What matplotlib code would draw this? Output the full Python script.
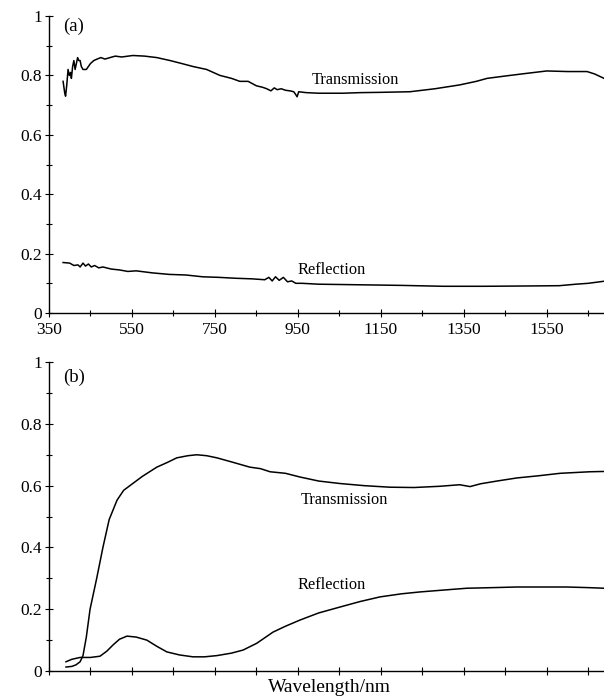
import matplotlib
matplotlib.use('Agg')
import matplotlib.pyplot as plt
from matplotlib.ticker import MultipleLocator, FixedLocator
import numpy as np

plt.rcParams['font.family'] = ['Liberation Serif', 'DejaVu Serif']

# (a) measured spectrum
wl_a_t = [384, 388, 390, 393, 396, 399, 402, 404, 407, 410, 413, 416, 419, 422, 425,
          428, 432, 440, 450, 458, 466, 475, 485, 497, 510, 525, 552, 580, 610, 642,
          670, 697, 730, 762, 790, 810, 830, 850, 865, 875, 885, 893, 900, 910, 920,
          931, 940, 945, 948, 952, 970, 1000, 1058, 1100, 1150, 1220, 1280, 1340,
          1380, 1406, 1450, 1502, 1550, 1600, 1647, 1665, 1688]
trans_a = [0.78, 0.74, 0.73, 0.77, 0.82, 0.80, 0.81, 0.79, 0.83, 0.85, 0.82, 0.84, 0.86,
           0.85, 0.85, 0.83, 0.82, 0.82, 0.84, 0.85, 0.855, 0.86, 0.855, 0.86, 0.865,
           0.862, 0.867, 0.865, 0.86, 0.85, 0.84, 0.83, 0.82, 0.80, 0.79, 0.78, 0.78,
           0.765, 0.76, 0.755, 0.748, 0.758, 0.752, 0.755, 0.75, 0.748, 0.745, 0.735,
           0.728, 0.745, 0.742, 0.74, 0.74, 0.742, 0.743, 0.745, 0.755, 0.768, 0.78,
           0.79, 0.798, 0.807, 0.815, 0.813, 0.813, 0.805, 0.79]

wl_a_r = [384, 400, 410, 420, 425, 432, 438, 445, 452, 460, 470, 480, 500, 520, 540,
          560, 600, 640, 680, 720, 760, 800, 840, 870, 880, 888, 896, 905, 915, 925,
          935, 945, 960, 1000, 1100, 1200, 1300, 1400, 1500, 1580, 1620, 1650, 1688]
refl_a = [0.17, 0.168, 0.16, 0.162, 0.155, 0.168, 0.158, 0.165, 0.155, 0.16, 0.152,
          0.155, 0.148, 0.145, 0.14, 0.142, 0.135, 0.13, 0.128, 0.122, 0.12, 0.117,
          0.115, 0.112, 0.12, 0.108, 0.122, 0.11, 0.12, 0.105, 0.108, 0.1, 0.1, 0.097,
          0.095, 0.093, 0.09, 0.09, 0.091, 0.092, 0.097, 0.1, 0.107]

# (b) calculated spectrum
wl_b_t = [391, 405, 415, 425, 432, 440, 449, 465, 480, 495, 514, 530, 545, 575, 610,
          635, 658, 685, 706, 730, 755, 795, 834, 860, 883, 920, 955, 1000, 1051,
          1110, 1172, 1230, 1292, 1340, 1365, 1390, 1430, 1478, 1530, 1582, 1654, 1688]
trans_b = [0.013, 0.015, 0.02, 0.03, 0.05, 0.11, 0.2, 0.3, 0.4, 0.49, 0.553, 0.585,
           0.60, 0.63, 0.66, 0.675, 0.69, 0.697, 0.70, 0.697, 0.69, 0.675, 0.66, 0.655,
           0.645, 0.64, 0.628, 0.615, 0.607, 0.60, 0.595, 0.594, 0.598, 0.603, 0.597,
           0.606, 0.615, 0.625, 0.632, 0.64, 0.645, 0.646]

wl_b_r = [391, 405, 425, 450, 473, 490, 504, 520, 538, 560, 586, 610, 634, 665, 697,
          725, 755, 790, 818, 851, 890, 920, 955, 1000, 1051, 1100, 1148, 1200, 1244,
          1300, 1357, 1420, 1478, 1540, 1598, 1650, 1688]
refl_b = [0.03, 0.038, 0.044, 0.044, 0.048, 0.065, 0.084, 0.103, 0.113, 0.11, 0.1,
          0.08, 0.062, 0.052, 0.046, 0.046, 0.05, 0.058, 0.068, 0.09, 0.126, 0.145,
          0.165, 0.188, 0.207, 0.225, 0.24, 0.25, 0.256, 0.262, 0.268, 0.27, 0.272,
          0.272, 0.272, 0.27, 0.268]

y_ticks = [0, 0.2, 0.4, 0.6, 0.8, 1]
y_labels = ['0', '0.2', '0.4', '0.6', '0.8', '1']
x_ticks = [350, 550, 750, 950, 1150, 1350, 1550]
x_minor = [450, 650, 850, 1050, 1250, 1450, 1650]
x_all = sorted(x_ticks + x_minor)

fig = plt.figure(figsize=(6.04, 6.99), dpi=100)
ax1 = fig.add_axes([0.0811, 0.5522, 0.919, 0.4249])
ax2 = fig.add_axes([0.0811, 0.04, 0.919, 0.442])

ax1.plot(wl_a_t, trans_a, color='black', lw=1.1)
ax1.plot(wl_a_r, refl_a, color='black', lw=1.1)
ax2.plot(wl_b_t, trans_b, color='black', lw=1.1)
ax2.plot(wl_b_r, refl_b, color='black', lw=1.1)

for ax in (ax1, ax2):
    ax.set_xlim(350, 1688)
    ax.set_ylim(0, 1)
    ax.spines['top'].set_visible(False)
    ax.spines['right'].set_visible(False)
    ax.spines['left'].set_linewidth(1.0)
    ax.spines['bottom'].set_linewidth(1.0)
    ax.set_yticks(y_ticks)
    ax.set_yticklabels(y_labels)
    ax.yaxis.set_minor_locator(MultipleLocator(0.1))
    ax.tick_params(which='major', direction='inout', length=6, width=0.8, labelsize=12.5)
    ax.tick_params(which='minor', direction='inout', length=5, width=0.8)
    ax.tick_params(axis='y', pad=2)

ax1.set_xticks(x_ticks)
ax1.set_xticklabels([str(t) for t in x_ticks])
ax1.xaxis.set_minor_locator(FixedLocator(x_minor))
ax2.set_xticks(x_all)
ax2.tick_params(axis='x', which='both', labelbottom=False)

ax1.text(0.025, 0.965, '(a)', transform=ax1.transAxes, fontsize=13.5, va='center')
ax2.text(0.025, 0.95, '(b)', transform=ax2.transAxes, fontsize=13.5, va='center')

ax1.text(984, 0.785, 'Transmission', fontsize=11.8, va='center')
ax1.text(948, 0.145, 'Reflection', fontsize=11.8, va='center')
ax2.text(957, 0.553, 'Transmission', fontsize=11.8, va='center')
ax2.text(950, 0.278, 'Reflection', fontsize=11.8, va='center')

fig.text(0.546, 0.016, 'Wavelength/nm', fontsize=14, ha='center', va='center')

fig.savefig('out.png', dpi=100, facecolor='white')
